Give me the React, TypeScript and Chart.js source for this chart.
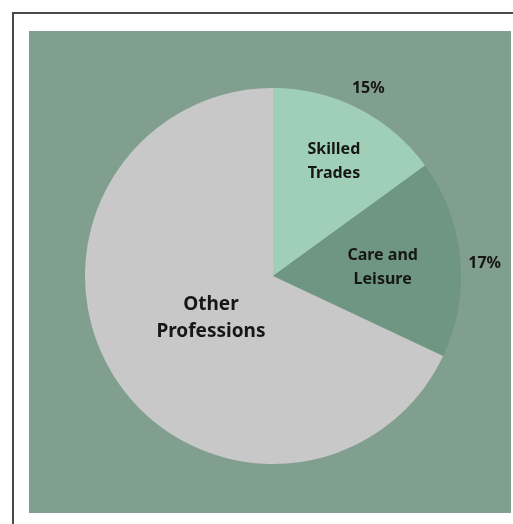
import React, { useEffect, useRef } from "react";
import { Chart, registerables } from "chart.js";

Chart.register(...registerables);

const categories = ["Skilled Trades", "Care and Leisure", "Other Professions"];
const shares = [15, 17, 68];
const percentLabels = ["15%", "17%", ""];
const sliceLines = [["Skilled", "Trades"], ["Care and", "Leisure"], ["Other", "Professions"]];
const sliceColors = ["#9fd0b7", "#6f9682", "#c8c8c8"];

const labelPlugin = {
  id: "sliceLabels",
  afterDatasetsDraw(chart: any) {
    const ctx = chart.ctx;
    const meta = chart.getDatasetMeta(0);
    const inner = [
      { f: 0.69, da: 1, size: 16, lh: 24, pda: 0, pr: 22 },
      { f: 0.585, da: 1, size: 16, lh: 24, pda: 2, pr: 24 },
      { f: 0.4, da: -2, size: 19, lh: 27, pda: 0, pr: 22 },
    ];
    ctx.save();
    ctx.fillStyle = "#161616";
    ctx.textAlign = "center";
    ctx.textBaseline = "middle";
    meta.data.forEach((arc: any, i: number) => {
      const p = arc.getProps(["x", "y", "startAngle", "endAngle", "outerRadius"], true);
      const mid = (p.startAngle + p.endAngle) / 2;
      const cfg = inner[i];
      const a = mid + (cfg.da * Math.PI) / 180;
      const r = p.outerRadius * cfg.f;
      const cx = p.x + Math.cos(a) * r;
      const cy = p.y + Math.sin(a) * r;
      ctx.font = `bold ${cfg.size}px "Noto Sans", "Open Sans", sans-serif`;
      const lines = sliceLines[i];
      lines.forEach((t, k) => {
        ctx.fillText(t, cx, cy + (k - (lines.length - 1) / 2) * cfg.lh);
      });
      if (percentLabels[i]) {
        const ro = p.outerRadius + cfg.pr;
        const pa = mid + (cfg.pda * Math.PI) / 180;
        ctx.font = `bold 16px "Noto Sans", "Open Sans", sans-serif`;
        ctx.fillText(percentLabels[i], p.x + Math.cos(pa) * ro, p.y + Math.sin(pa) * ro);
      }
    });
    ctx.restore();
  },
};

export default function App() {
  const ref = useRef<HTMLCanvasElement | null>(null);
  useEffect(() => {
    if (!ref.current) return;
    const chart = new Chart(ref.current, {
      type: "pie",
      data: {
        labels: categories,
        datasets: [
          {
            data: shares,
            backgroundColor: sliceColors,
            borderWidth: 0,
          },
        ],
      },
      options: {
        animation: false,
        responsive: false,
        maintainAspectRatio: false,
        layout: { padding: { left: 56, right: 50, top: 57, bottom: 49 } },
        plugins: {
          legend: { display: false },
          tooltip: { enabled: false },
        },
      },
      plugins: [labelPlugin],
    });
    return () => chart.destroy();
  }, []);

  return (
    <div style={{ position: "absolute", left: 0, top: 0, width: 513, height: 524, background: "#ffffff", overflow: "hidden" }}>
      <div
        style={{
          position: "absolute",
          left: 12,
          top: 12,
          width: 520,
          height: 530,
          borderLeft: "2px solid #4a4a4a",
          borderTop: "2px solid #4a4a4a",
        }}
      />
      <div
        style={{
          position: "absolute",
          left: 29,
          top: 31,
          width: 482,
          height: 482,
          background: "#819f8f",
        }}
      >
        <canvas ref={ref} width={482} height={482} style={{ display: "block", width: 482, height: 482 }} />
      </div>
    </div>
  );
}
